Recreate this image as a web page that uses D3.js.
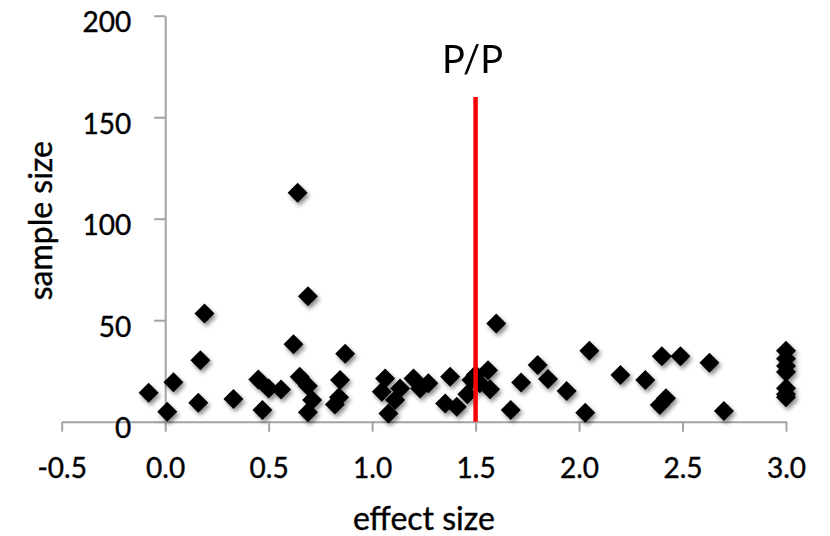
<!DOCTYPE html>
<html>
<head>
<meta charset="utf-8">
<script src="https://cdn.jsdelivr.net/npm/d3@7/dist/d3.min.js"></script>
<style>
  html, body { margin: 0; padding: 0; background: #fff; }
  svg { display: block; }
  text { font-family: Lato, "Open Sans", sans-serif; fill: #000; stroke: #000; stroke-width: 0.4px; }
</style>
</head>
<body>
<svg id="chart" width="830" height="536"></svg>
<script>
// effect size (x) and sample size (y)
const effectSize = [
  -0.08, 0.01, 0.04, 0.16, 0.17, 0.19, 0.33, 0.45, 0.47, 0.50,
  0.56, 0.62, 0.64, 0.65, 0.69, 0.71, 0.69, 0.69, 0.845, 0.84,
  0.82, 0.87, 1.063, 1.047, 1.135, 1.111, 1.079, 1.20, 1.232, 1.272,
  1.377, 1.353, 1.409, 1.46, 1.48, 1.50, 1.52, 1.56, 1.57, 1.60,
  1.67, 1.72, 1.80, 1.85, 1.94, 2.03, 2.05, 2.20, 2.32, 2.40,
  2.49, 2.39, 2.42, 2.63, 2.70, 3.0, 3.0, 3.0, 3.0, 3.0,
  3.0, 3.0
];
const sampleSize = [
  14.3, 4.9, 19.4, 9.3, 30.3, 53.3, 11.2, 20.8, 5.8, 16.4,
  15.9, 38.2, 112.8, 22.1, 17.6, 10.7, 4.6, 61.8, 20.5, 12,
  8.5, 33.5, 21.3, 14.7, 16.4, 10.7, 4.1, 21.3, 16.4, 18.9,
  22.1, 9, 7.4, 13.5, 20.5, 23, 19, 25.4, 16, 48.4,
  5.8, 19.3, 27.9, 21, 15.1, 4.4, 34.9, 23, 20.5, 32.3,
  32.3, 8.2, 11.5, 29, 5.3, 35, 31, 27.5, 24.5, 16.5,
  13.5, 12
];
const xTicks = [-0.5, 0.0, 0.5, 1.0, 1.5, 2.0, 2.5, 3.0];
const yTicks = [0, 50, 100, 150, 200];
const markerLine = { x: 1.5, top: 160, label: "P/P" };
const xTitle = "effect size";
const yTitle = "sample size";

const svg = d3.select("#chart");
const x = d3.scaleLinear().domain([-0.5, 3.0]).range([61.7, 786]);
const y = d3.scaleLinear().domain([0, 200]).range([421.7, 15.7]);

const defs = svg.append("defs");
const f = defs.append("filter").attr("id", "shadow")
  .attr("x", "-50%").attr("y", "-50%").attr("width", "200%").attr("height", "200%");
f.append("feDropShadow").attr("dx", 2).attr("dy", 3).attr("stdDeviation", 2.2)
  .attr("flood-color", "#000").attr("flood-opacity", 0.45);

const axisColor = "#a3a3a3";

// X axis
const gx = svg.append("g").attr("transform", `translate(0,${y(0)})`)
  .call(d3.axisBottom(x).tickValues(xTicks).tickFormat(d3.format(".1f"))
    .tickSize(10).tickSizeOuter(0));
gx.select(".domain").attr("stroke", axisColor).attr("stroke-width", 2);
gx.selectAll(".tick line").attr("stroke", axisColor).attr("stroke-width", 2);
gx.selectAll(".tick text").attr("y", 56).attr("dy", 0)
  .style("font-size", "28px").style("font-family", "Lato, sans-serif").attr("fill", "#000")
  .text(d => d < 0 ? "-" + Math.abs(d).toFixed(1) : d.toFixed(1));

// Y axis
const gy = svg.append("g").attr("transform", `translate(${x(0)},0)`)
  .call(d3.axisLeft(y).tickValues(yTicks).tickSize(11).tickSizeOuter(0));
gy.select(".domain").attr("stroke", axisColor).attr("stroke-width", 2);
gy.selectAll(".tick line").attr("stroke", axisColor).attr("stroke-width", 2);
gy.selectAll(".tick text").attr("x", -34).attr("dy", 16)
  .style("font-size", "28px").style("font-family", "Lato, sans-serif").attr("fill", "#000");

// Titles
svg.append("text").attr("x", (x.range()[0] + x.range()[1]) / 2).attr("y", 530)
  .attr("text-anchor", "middle").style("font-size", "32px").text(xTitle);
svg.append("text")
  .attr("transform", `translate(52,${(y(0) + y(200)) / 2 + 2}) rotate(-90)`)
  .attr("text-anchor", "middle").style("font-size", "32px").text(yTitle);

// Points
const pts = effectSize.map((d, i) => ({ x: d, y: sampleSize[i] }));
const sym = d3.symbol().type(d3.symbolSquare).size(200);
svg.append("g").attr("filter", "url(#shadow)")
  .selectAll("path").data(pts).join("path")
  .attr("d", sym)
  .attr("transform", d => `translate(${x(d.x)},${y(d.y)}) rotate(45)`)
  .attr("fill", "#000");

// Red reference line
svg.append("line")
  .attr("x1", x(markerLine.x)).attr("x2", x(markerLine.x))
  .attr("y1", y(0)).attr("y2", y(markerLine.top))
  .attr("stroke", "#ff0000").attr("stroke-width", 4.5);
svg.append("text").attr("x", x(markerLine.x) - 3).attr("y", y(markerLine.top) - 24)
  .attr("text-anchor", "middle").style("font-size", "38px").style("stroke-width", "0px")
  .text(markerLine.label);
</script>
</body>
</html>
